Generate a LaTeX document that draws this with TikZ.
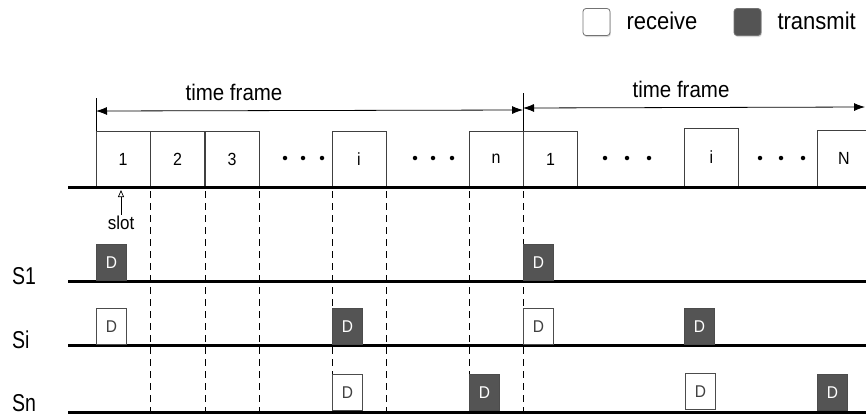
\documentclass[tikz,border=0pt]{standalone}
\usepackage{fontspec}
\setmainfont{Liberation Sans}
\usetikzlibrary{arrows.meta,shadows}
% lettering is set slightly taller than its natural shape
\newcommand\tallText[2][1.1]{\scalebox{1}[#1]{#2}}
\begin{document}
\begin{tikzpicture}[x=1pt,y=-1pt,
  slotbox/.style={draw=black!75,line width=0.8pt,minimum width=54pt,minimum height=56pt,
    inner sep=0pt,font=\fontsize{16}{16}\selectfont},
  msgbox/.style={draw=black!70,line width=0.8pt,minimum width=30pt,minimum height=36pt,
    inner sep=0pt,font=\fontsize{15.5}{15.5}\selectfont,
    drop shadow={shadow xshift=0.8pt,shadow yshift=-0.8pt,opacity=0.25}},
  rxbox/.style={msgbox,fill=white,text=black!75},
  txbox/.style={msgbox,fill=black!67,text=white},
  legendbox/.style={draw=black!55,line width=0.8pt,rounded corners=3pt,minimum width=27pt,
    minimum height=27pt,inner sep=0pt,
    drop shadow={shadow xshift=0.8pt,shadow yshift=-1.5pt,opacity=0.3}},
  baseline/.style={line width=3pt},
  gridline/.style={line width=0.8pt,dash pattern=on 7pt off 5pt},
  legendlabel/.style={font=\fontsize{22}{22}\selectfont},
  framelabel/.style={font=\fontsize{20.5}{20.5}\selectfont},
  stationlabel/.style={font=\fontsize{19.5}{19.5}\selectfont,anchor=west,inner sep=0pt},
  dot/.style={circle,fill=black,inner sep=0pt,minimum size=4.5pt},
  frametip/.style={{Latex[length=11pt,width=8pt]}-{Latex[length=11pt,width=8pt]}}
]
\useasboundingbox (0,0) rectangle (866,416);

% legend
\node[legendbox,fill=white] (rxkey) at (596.5,22) {};
\node[legendlabel,anchor=west] (rxtext) at (623,21) {\tallText{receive}};
\node[legendbox,fill=black!67] (txkey) at (747.5,22) {};
\node[legendlabel,anchor=west] (txtext) at (774,21) {\tallText{transmit}};

% frame boundaries and time-frame arrows
\coordinate (f0top) at (96,98);
\coordinate (f0bot) at (96,187);
\coordinate (f1top) at (523,93);
\coordinate (f1bot) at (523,187);
\coordinate (f0) at (96,111);
\coordinate (f1) at (523,110);
\coordinate (f1b) at (523,108);
\coordinate (f2) at (865,107);
\draw[line width=0.8pt] (f0top) -- (f0bot);
\draw[line width=0.8pt] (f1top) -- (f1bot);
\draw[line width=0.8pt,frametip] (f0) -- (f1);
\draw[line width=0.8pt,frametip] (f1b) -- (f2);
\node[framelabel] (tf1) at (234,92) {\tallText{time frame}};
\node[framelabel] (tf2) at (681,89) {\tallText{time frame}};

% slots of the first frame
\node[slotbox] (s1) at (123,159) {\tallText{1}};
\node[slotbox] (s2) at (177.5,159) {\tallText{2}};
\node[slotbox] (s3) at (232,159) {\tallText{3}};
\node[slotbox] (si) at (359,159) {\tallText{i}};
\node[slotbox] (sn) at (496,159) {\tallText{n}};
% slots of the second frame
\node[slotbox] (t1) at (550.5,159) {\tallText{1}};
\node[slotbox,minimum height=59pt] (ti) at (711.5,157.5) {\tallText{i}};
\node[slotbox,minimum height=57pt] (tN) at (844,158.5) {\tallText{N}};

% ellipses between slots
\foreach \x [count=\k] in {285,303,322} \node[dot] (da\k) at (\x,158) {};
\foreach \x [count=\k] in {415,433,452} \node[dot] (db\k) at (\x,158) {};
\foreach \x [count=\k] in {605,627,649} \node[dot] (dc\k) at (\x,158) {};
\foreach \x [count=\k] in {760,781,803} \node[dot] (dd\k) at (\x,158) {};

% time line
\coordinate (tl0) at (68,187);
\coordinate (tl1) at (866,187);
\draw[baseline] (tl0) -- (tl1);

% slot pointer
\node[font=\fontsize{17}{17}\selectfont,inner sep=1pt] (slot) at (121,223) {\tallText{slot}};
\coordinate (slottip) at (121,190);
\draw[line width=0.7pt,-{Triangle[open,length=7pt,width=6pt]}] (slot.north) -- (slottip);

% slot boundaries
\foreach \x in {150,205,259,332,386,469,523} {
  \coordinate (gt\x) at (\x,191);
  \coordinate (gb\x) at (\x,412);
  \draw[gridline] (gt\x) -- (gb\x);
}

% station lines
\foreach \n/\y/\ly/\txt in {one/281/276/S1,mid/345/340/Si,last/412/403/Sn} {
  \coordinate (\n0) at (68,\y);
  \coordinate (\n1) at (866,\y);
  \draw[baseline] (\n0) -- (\n1);
  \node[stationlabel] (lab\n) at (12,\ly) {\tallText[1.25]{\txt}};
}

% data packets, bottoms resting on the station lines
\node[txbox,anchor=south west] (p11) at (96,281) {\tallText{D}};
\node[txbox,anchor=south west] (p12) at (523,281) {\tallText{D}};

\node[rxbox,anchor=south west] (p21) at (96,345) {\tallText{D}};
\node[txbox,anchor=south west] (p22) at (332,345) {\tallText{D}};
\node[rxbox,anchor=south west] (p23) at (523,345) {\tallText{D}};
\node[txbox,anchor=south west] (p24) at (684,345) {\tallText{D}};

\node[rxbox,anchor=south west] (p31) at (332,411) {\tallText{D}};
\node[txbox,anchor=south west] (p32) at (469,411) {\tallText{D}};
\node[rxbox,anchor=south west] (p33) at (685,410) {\tallText{D}};
\node[txbox,anchor=south west] (p34) at (817,411) {\tallText{D}};
\end{tikzpicture}
\end{document}
